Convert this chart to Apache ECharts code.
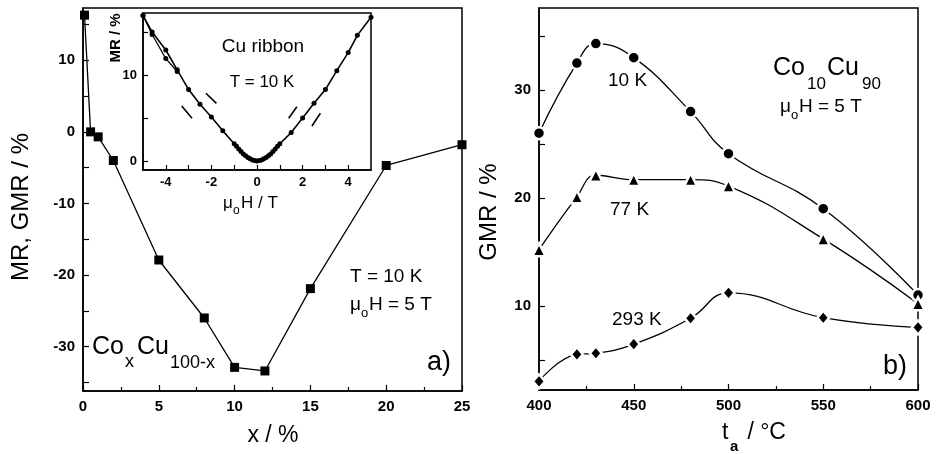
<!DOCTYPE html>
<html lang="en">
<head>
<meta charset="UTF-8">
<title>MR / GMR of CoCu ribbons</title>
<style>
  html, body { margin: 0; padding: 0; background: #fff; }
  #chart { width: 939px; height: 454px; }
</style>
</head>
<body>
<div id="chart"></div>
<script src="https://cdn.jsdelivr.net/npm/echarts@6/dist/echarts.min.js"></script>
<script>
// panel a) : GMR vs Co content
var coX = [0.1, 0.5, 1, 2, 5, 8, 10, 12, 15, 20, 25];
var coGMR = [16.3, 0, -0.7, -4, -17.9, -26, -32.9, -33.4, -21.9, -4.7, -1.8];

// inset : Cu ribbon MR vs field
var cuH = [-5, -4.6, -4, -3.5, -3, -2.5, -2, -1.5, -1, -0.9, -0.8, -0.7, -0.6, -0.5, -0.4, -0.3, -0.2, -0.1, 0,
  0.1, 0.2, 0.3, 0.4, 0.5, 0.6, 0.7, 0.8, 0.9, 1, 1.5, 2, 2.5, 3, 3.5, 4, 4.4, 5];
var cuMR = [16.9, 15.0, 12.9, 10.6, 8.3, 6.6, 5.1, 3.5, 2.0, 1.7, 1.4, 1.1, 0.8, 0.6, 0.4, 0.25, 0.1, 0.05, 0,
  0.05, 0.1, 0.25, 0.4, 0.6, 0.8, 1.1, 1.4, 1.7, 2.0, 3.3, 5.0, 6.7, 8.3, 10.5, 12.6, 14.6, 16.7];
// second sweep, only differs at high negative field
var cuH2 = [-5, -4.6, -4, -3.5];
var cuMR2 = [16.9, 14.7, 11.9, 10.4];
// slope guide dashes drawn in the inset
var guides = [
  [[-3.3, 6.4], [-2.85, 4.97]],
  [[-2.24, 7.87], [-1.78, 6.7]],
  [[1.39, 4.97], [1.75, 6.3]],
  [[2.41, 4.07], [2.78, 5.55]]
];

// panel b) : GMR vs annealing temperature
var ta = [400, 420, 430, 450, 480, 500, 550, 600];
var gmr10K = [26.0, 32.5, 34.3, 33.0, 28.0, 24.1, 19.0, 11.0];
var gmr77K = [15.2, 20.1, 22.1, 21.7, 21.7, 21.1, 16.2, 10.2];
var gmr293K = [3.0, 5.5, 5.6, 6.45, 8.85, 11.2, 8.9, 8.0];

function pairs(xs, ys) {
  return xs.map(function (x, i) { return [x, ys[i]]; });
}

var FONT = '"Liberation Sans", Arial, sans-serif';
var tickLbl = { color: '#000', fontFamily: FONT, fontWeight: 'bold', fontSize: 15 };

function valAxis(idx, o) {
  var ax = {
    type: 'value', gridIndex: idx, min: o.min, max: o.max,
    axisLine: { show: true, onZero: false, lineStyle: { color: '#000', width: 1.5 } },
    axisTick: { show: true, inside: true, length: o.tl || 6, lineStyle: { color: '#000', width: 1.2 } },
    minorTick: { show: false },
    splitLine: { show: false },
    axisLabel: Object.assign({ margin: o.margin || 8 }, tickLbl, o.lbl || {})
  };
  if (o.interval) {
    ax.interval = o.interval;
    ax.minorTick = { show: true, splitNumber: 2, length: (o.tl || 6) - 2, lineStyle: { color: '#000', width: 1.2 } };
  }
  if (o.labels) {
    ax.axisLabel.customValues = o.labels;
    ax.axisTick.customValues = o.ticks;
  }
  return ax;
}

function txt(x, y, text, size, extra) {
  extra = extra || {};
  return {
    type: 'text', x: x, y: y, rotation: extra.rot || 0, z: 100,
    style: {
      text: text, x: 0, y: 0,
      font: (extra.bold ? 'bold ' : '') + size + 'px ' + FONT,
      fill: '#000',
      textAlign: extra.align || 'left', textVerticalAlign: 'middle',
      align: extra.align || 'left', verticalAlign: 'middle'
    }
  };
}

var chart = echarts.init(document.getElementById('chart'));

var lineBase = {
  type: 'line', symbol: 'rect', symbolSize: 9, showSymbol: true,
  lineStyle: { color: '#000', width: 1.3 },
  itemStyle: { color: '#000' },
  animation: false, silent: true
};

var series = [];
series.push(Object.assign({}, lineBase, {
  xAxisIndex: 0, yAxisIndex: 0, data: pairs(coX, coGMR)
}));
var insetBase = Object.assign({}, lineBase, {
  xAxisIndex: 1, yAxisIndex: 1, z: 10, symbol: 'circle', symbolSize: 5
});
series.push(Object.assign({}, insetBase, {
  lineStyle: { color: '#000', width: 1.6 }, data: pairs(cuH, cuMR)
}));
series.push(Object.assign({}, insetBase, {
  lineStyle: { color: '#000', width: 1.2 }, data: pairs(cuH2, cuMR2)
}));
guides.forEach(function (g) {
  series.push(Object.assign({}, insetBase, {
    showSymbol: false, symbol: 'none',
    lineStyle: { color: '#000', width: 1.6 }, data: g
  }));
});
var bStyle = {
  xAxisIndex: 2, yAxisIndex: 2, smooth: 0.45,
  itemStyle: { color: '#000', borderColor: '#fff', borderWidth: 2.5 }
};
series.push(Object.assign({}, lineBase, bStyle, { symbol: 'circle', symbolSize: 12, data: pairs(ta, gmr10K) }));
series.push(Object.assign({}, lineBase, bStyle, { symbol: 'triangle', symbolSize: 13, data: pairs(ta, gmr77K) }));
series.push(Object.assign({}, lineBase, bStyle, { symbol: 'diamond', symbolSize: [12, 14], data: pairs(ta, gmr293K) }));

var inAxisX = valAxis(1, { min: -5, max: 5, tl: 5, margin: 6, lbl: { fontSize: 13 }, labels: [-4, -2, 0, 2, 4], ticks: [-4, -3, -2, -1, 0, 1, 2, 3, 4] });
var inAxisY = valAxis(1, { min: -1.05, max: 17.2, tl: 5, margin: 6, lbl: { fontSize: 13 }, labels: [0, 10], ticks: [0, 5, 10, 15] });
inAxisX.z = 12;
inAxisY.z = 12;

var option = {
  backgroundColor: '#fff',
  animation: false,
  grid: [
    { left: 83, top: 8, width: 379, height: 383, show: true, borderColor: '#000', borderWidth: 1.5, backgroundColor: 'transparent' },
    { left: 143, top: 13, width: 228, height: 157, show: true, borderColor: '#000', borderWidth: 1.5, backgroundColor: '#fff', z: 5 },
    { left: 539, top: 8, width: 379, height: 382, show: true, borderColor: '#000', borderWidth: 1.5, backgroundColor: 'transparent' }
  ],
  xAxis: [
    valAxis(0, { min: 0, max: 25, interval: 5 }),
    inAxisX,
    valAxis(2, { min: 400, max: 600, interval: 50 })
  ],
  yAxis: [
    valAxis(0, { min: -36.2, max: 17.3, labels: [-30, -20, -10, 0, 10], ticks: [-35, -30, -25, -20, -15, -10, -5, 0, 5, 10, 15] }),
    inAxisY,
    valAxis(2, { min: 2.2, max: 37.6, labels: [10, 20, 30], ticks: [5, 10, 15, 20, 25, 30, 35] })
  ],
  series: series,
  graphic: [
    // panel a
    txt(21, 207, 'MR, GMR / %', 24, { rot: Math.PI / 2, align: 'center' }),
    txt(273, 436, 'x / %', 23, { align: 'center' }),
    txt(92, 347, 'Co', 25),
    txt(125, 362, 'x', 18),
    txt(137, 347, 'Cu', 25),
    txt(170, 363, '100-x', 18),
    txt(350, 277, 'T = 10 K', 19),
    txt(350, 305, 'μ', 19),
    txt(361, 313, 'o', 13),
    txt(369, 305, 'H = 5 T', 19),
    txt(427, 363, 'a)', 27),
    // inset
    txt(116, 38, 'MR / %', 15, { rot: Math.PI / 2, align: 'center', bold: true }),
    txt(223, 203, 'μ', 17),
    txt(233, 211, 'o', 12),
    txt(241, 203, 'H / T', 17),
    txt(263, 47, 'Cu ribbon', 19, { align: 'center' }),
    txt(262, 82, 'T = 10 K', 17, { align: 'center' }),
    // panel b
    txt(489, 212, 'GMR / %', 24, { rot: Math.PI / 2, align: 'center' }),
    txt(722, 433, 't', 23),
    txt(730, 447, 'a', 15, { bold: true }),
    txt(741, 433, ' / °C', 23),
    txt(608, 81, '10 K', 19),
    txt(610, 210, '77 K', 19),
    txt(612, 320, '293 K', 19),
    txt(773, 68, 'Co', 25),
    txt(807, 84, '10', 17),
    txt(827, 68, 'Cu', 25),
    txt(862, 84, '90', 17),
    txt(780, 107, 'μ', 19),
    txt(791, 115, 'o', 13),
    txt(799, 107, 'H = 5 T', 19),
    txt(883, 367, 'b)', 27)
  ]
};

chart.setOption(option);
</script>
</body>
</html>
